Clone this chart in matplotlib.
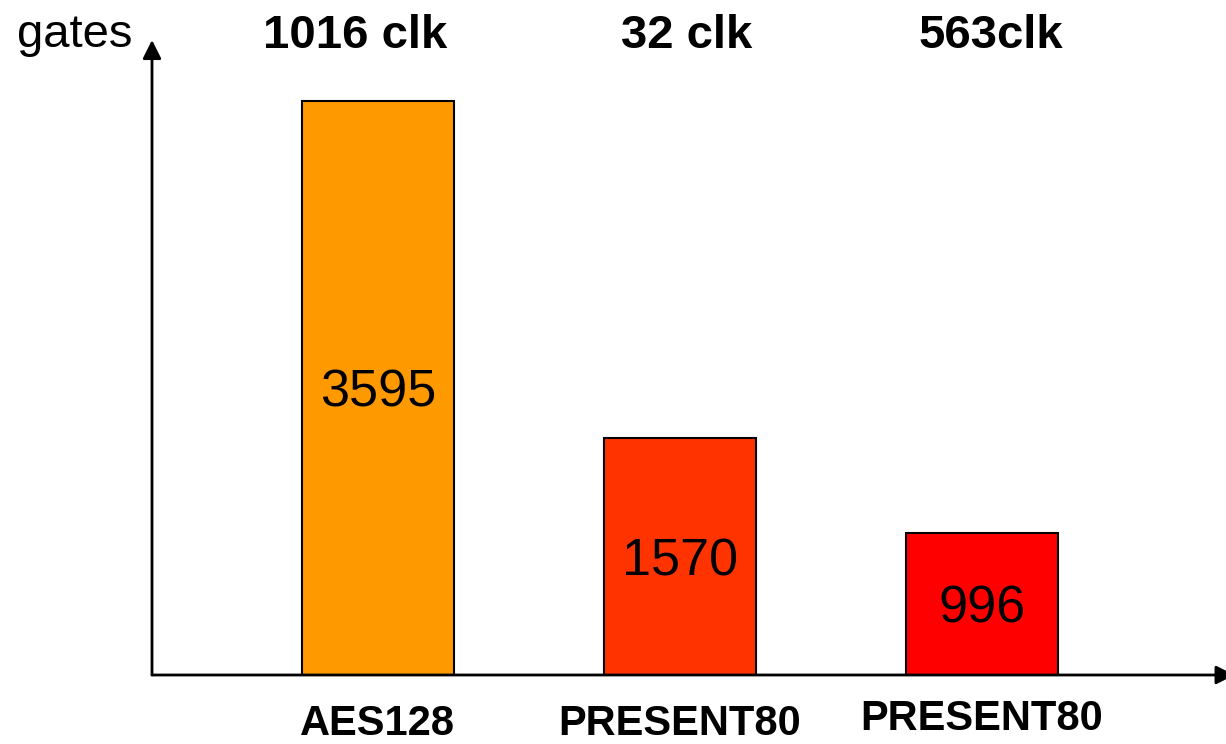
import matplotlib
matplotlib.use("Agg")
import matplotlib.pyplot as plt
import matplotlib.transforms as mtransforms

# Data
categories = ["AES128", "PRESENT80", "PRESENT80"]
gates = [3595, 1570, 996]
cycles = ["1016 clk", "32 clk", "563clk"]
colors = ["#FF9900", "#FF3300", "#FF0000"]

plt.rcParams["font.family"] = ["Liberation Sans", "DejaVu Sans"]

fig = plt.figure(figsize=(12.26, 7.44), dpi=100)
fig.patch.set_facecolor("white")

W, H = 1226, 744
x_left, x_right = 152, 1226
y_base, y_top = 675, 40
ax = fig.add_axes([x_left / W, (H - y_base) / H,
                   (x_right - x_left) / W, (y_base - y_top) / H])

y0 = 140
ax.set_ylim(y0, 3965)
ax.set_xlim(-0.748, 2.808)
ax.axis("off")

xs = list(range(len(categories)))
ax.bar(xs, gates, width=0.503, color=colors, edgecolor="black", linewidth=1.5,
       zorder=2)

# value labels in the middle of the visible part of each bar
for x, v in zip(xs, gates):
    ax.annotate(str(v), xy=(x, y0 + (v - y0) / 2), xytext=(0, -13.5),
                textcoords="offset points", ha="center", va="baseline",
                fontsize=37.5, color="black", zorder=3)

# axes drawn as arrows
ax.annotate("", xy=(0, 1.0), xytext=(0, 0), xycoords="axes fraction",
            arrowprops=dict(arrowstyle="-|>", lw=2, color="black",
                            mutation_scale=28, shrinkA=0, shrinkB=0))
ax.annotate("", xy=(1.008, 0), xytext=(0, 0), xycoords="axes fraction",
            arrowprops=dict(arrowstyle="-|>", lw=2, color="black",
                            mutation_scale=28, shrinkA=0, shrinkB=0))

trans = mtransforms.blended_transform_factory(ax.transData, fig.transFigure)
top_dx = [-0.075, 0.022, 0.028]
for x, c, dx in zip(xs, cycles, top_dx):
    ax.text(x + dx, 1 - 48 / H, c, transform=trans, ha="center",
            va="baseline", fontsize=34, fontweight="bold", clip_on=False)

# category names along the bottom edge
bottom_base = [735, 735, 730]
for x, c, yy in zip(xs, categories, bottom_base):
    ax.text(x, 1 - yy / H, c, transform=trans, ha="center", va="baseline",
            fontsize=30, fontweight="bold", clip_on=False)

fig.text(75 / W, 1 - 47 / H, "gates", ha="center", va="baseline", fontsize=34)

fig.savefig("out.png", dpi=100, facecolor="white")
